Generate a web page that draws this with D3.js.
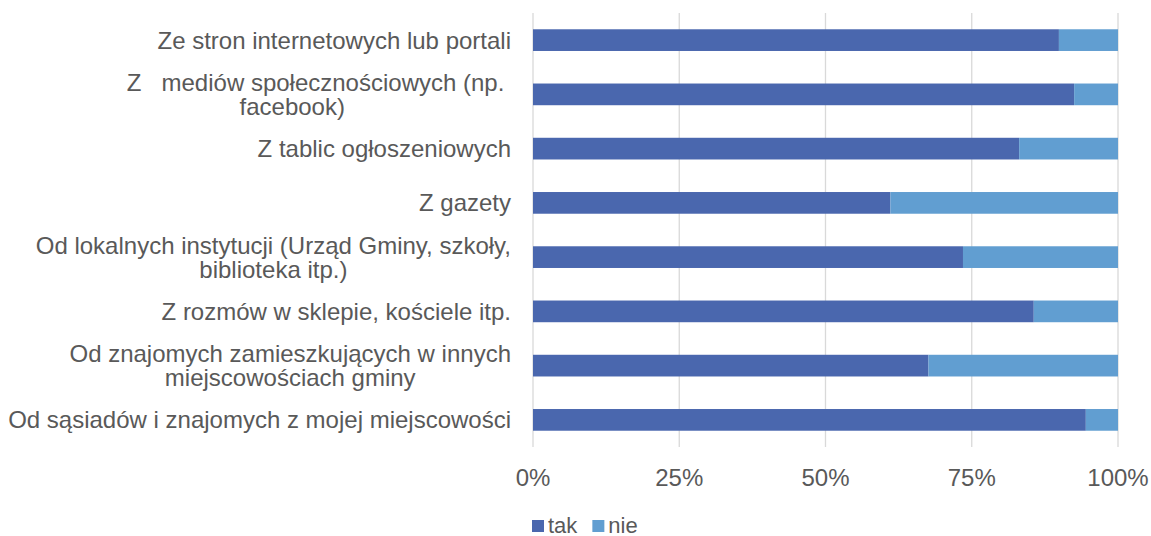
<!DOCTYPE html>
<html>
<head>
<meta charset="utf-8">
<script src="https://cdn.jsdelivr.net/npm/d3@7"></script>
<style>
  body { margin: 0; background: #fff; }
  svg text { font-family: "Liberation Sans", Arial, sans-serif; fill: #595959; }
</style>
</head>
<body>
<div id="chart"></div>
<script>
// categories, top to bottom; each entry is the list of wrapped lines
const categories = [
  ['Ze stron internetowych lub portali'],
  ['Z   mediów społecznościowych (np. ', 'facebook)        '],
  ['Z tablic ogłoszeniowych'],
  ['Z gazety'],
  ['Od lokalnych instytucji (Urząd Gminy, szkoły,', 'biblioteka itp.)'],
  ['Z rozmów w sklepie, kościele itp.'],
  ['Od znajomych zamieszkujących w innych', 'miejscowościach gminy'],
  ['Od sąsiadów i znajomych z mojej miejscowości']
];
const takValues = [89.9, 92.5, 83.1, 61.1, 73.5, 85.6, 67.6, 94.5];
const nieValues = takValues.map(v => 100 - v);
const seriesNames = ['tak', 'nie'];
const seriesColors = ['#4a67ae', '#619ed1'];
const tickValues = [0, 25, 50, 75, 100];

const width = 1151;
const height = 536;
const margin = { top: 13, right: 33, bottom: 89, left: 533 };
const labelRight = 511;
const fontSize = 24;
const lineHeight = 24;

const svg = d3.select('#chart')
  .append('svg')
    .attr('width', width)
    .attr('height', height);

const x = d3.scaleLinear()
  .domain([0, 100])
  .range([margin.left, width - margin.right]);

const y = d3.scaleBand()
  .domain(d3.range(categories.length))
  .range([margin.top, height - margin.bottom])
  .paddingInner(0.6)
  .paddingOuter(0.3);

// gridlines
svg.append('g')
  .selectAll('line')
    .data(tickValues)
    .enter()
    .append('line')
      .attr('x1', d => x(d))
      .attr('x2', d => x(d))
      .attr('y1', margin.top)
      .attr('y2', height - margin.bottom)
      .attr('stroke', '#d9d9d9')
      .attr('stroke-width', 1.3);

// stacked bars
const rows = takValues.map((tak, i) => ({ tak, nie: nieValues[i], i }));
const stack = d3.stack().keys(seriesNames)(rows);

svg.append('g')
  .selectAll('g')
    .data(stack)
    .enter()
    .append('g')
      .attr('fill', (s, k) => seriesColors[k])
    .selectAll('rect')
      .data(s => s)
      .enter()
      .append('rect')
        .attr('x', d => x(d[0]))
        .attr('width', d => x(d[1]) - x(d[0]))
        .attr('y', d => y(d.data.i))
        .attr('height', y.bandwidth());

// category labels (wrapped lines centred on each other, block right aligned)
const labelGroups = svg.append('g')
  .selectAll('g')
    .data(categories)
    .enter()
    .append('g');

labelGroups.each(function (lines, i) {
  const g = d3.select(this);
  const texts = g.selectAll('text')
    .data(lines)
    .enter()
    .append('text')
      .attr('xml:space', 'preserve')
      .style('white-space', 'pre')
      .attr('font-size', fontSize)
      .attr('text-anchor', 'middle')
      .attr('dy', '0.35em')
      .attr('y', (l, j) => y(i) + y.bandwidth() / 2 + (j - (lines.length - 1) / 2) * lineHeight)
      .text(l => l);
  const maxW = d3.max(texts.nodes(), n => n.getComputedTextLength());
  texts.attr('x', labelRight - maxW / 2);
});

// x axis tick labels
svg.append('g')
  .selectAll('text')
    .data(tickValues)
    .enter()
    .append('text')
      .attr('x', d => x(d))
      .attr('y', 478)
      .attr('dy', '0.35em')
      .attr('text-anchor', 'middle')
      .attr('font-size', fontSize)
      .text(d => `${d}%`);

// legend
const legend = svg.append('g')
  .attr('transform', 'translate(532, 525)');
let lx = 0;
seriesNames.forEach((name, k) => {
  legend.append('rect')
    .attr('x', lx)
    .attr('y', -5)
    .attr('width', 12)
    .attr('height', 12)
    .attr('fill', seriesColors[k]);
  const t = legend.append('text')
    .attr('x', lx + 16)
    .attr('y', 0)
    .attr('dy', '0.35em')
    .attr('font-size', 22)
    .text(name);
  lx += 16 + t.node().getComputedTextLength() + 15;
});
</script>
</body>
</html>
